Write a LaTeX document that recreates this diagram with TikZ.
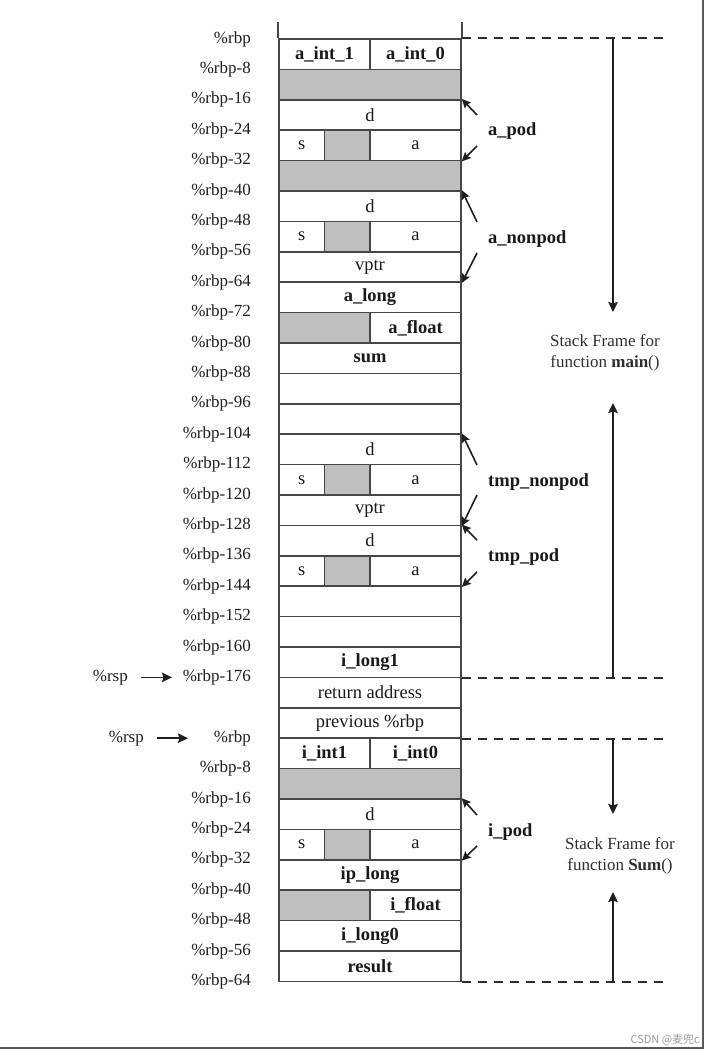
\documentclass[tikz,border=0pt]{standalone}
\usepackage{fontspec}
\setmainfont{Liberation Serif}
\newfontfamily\cjkfont{Noto Sans CJK SC}
\usetikzlibrary{arrows.meta, positioning}

\begin{document}
\begin{tikzpicture}[x=1pt, y=-1pt,
				>={Stealth[length=10pt,width=9.5pt,inset=1.5pt]},
				cell/.style={draw=black!72, line width=1.6pt, minimum height=30.4pt,
					inner sep=0pt, text=black!90, font=\fontsize{18.5}{21}\selectfont},
				full/.style={cell, minimum width=182pt},
				half/.style={cell, minimum width=91pt},
				small/.style={cell, minimum width=45.5pt},
				pad/.style={fill=black!25},
				addr/.style={anchor=east, inner sep=1pt, text=black!88, font=\fontsize{17}{20}\selectfont},
				obj/.style={anchor=west, inner sep=0pt, text=black!90, font=\bfseries\fontsize{18.5}{21}\selectfont},
				ptr/.style={->, >={Stealth[length=9pt,width=8.5pt,inset=1.5pt]}, line width=1.6pt, black!88},
				frameline/.style={line width=2.2pt, black!82, dash pattern=on 9pt off 7pt},
				span/.style={->, line width=1.7pt, black!88},
				note/.style={align=center, text=black!82, font=\fontsize{17}{21}\selectfont}]
	\useasboundingbox (0,0) rectangle (712,1051);
	% stack frame of main()
	\node[half] (r0a) at (324.5,54.2) {\textbf{a\_int\_1}};
	\node[half] (r0b) at (415.5,54.2) {\textbf{a\_int\_0}};
	\node[full, pad] (r1) at (370,84.6) {};
	\node[full] (r2) at (370,115) {d};
	\node[small] (r3a) at (301.75,145.4) {s};
	\node[small, pad] (r3b) at (347.25,145.4) {};
	\node[half] (r3c) at (415.5,145.4) {a};
	\node[full, pad] (r4) at (370,175.8) {};
	\node[full] (r5) at (370,206.2) {d};
	\node[small] (r6a) at (301.75,236.6) {s};
	\node[small, pad] (r6b) at (347.25,236.6) {};
	\node[half] (r6c) at (415.5,236.6) {a};
	\node[full] (r7) at (370,267) {vptr};
	\node[full] (r8) at (370,297.4) {\textbf{a\_long}};
	\node[half, pad] (r9a) at (324.5,327.8) {};
	\node[half] (r9b) at (415.5,327.8) {\textbf{a\_float}};
	\node[full] (r10) at (370,358.2) {\textbf{sum}};
	\node[full] (r11) at (370,388.6) {};
	\node[full] (r12) at (370,419) {};
	\node[full] (r13) at (370,449.4) {d};
	\node[small] (r14a) at (301.75,479.8) {s};
	\node[small, pad] (r14b) at (347.25,479.8) {};
	\node[half] (r14c) at (415.5,479.8) {a};
	\node[full] (r15) at (370,510.2) {vptr};
	\node[full] (r16) at (370,540.6) {d};
	\node[small] (r17a) at (301.75,571) {s};
	\node[small, pad] (r17b) at (347.25,571) {};
	\node[half] (r17c) at (415.5,571) {a};
	\node[full] (r18) at (370,601.4) {};
	\node[full] (r19) at (370,631.8) {};
	\node[full] (r20) at (370,662.2) {\textbf{i\_long1}};
	\node[full] (r21) at (370,692.6) {return address};
	\node[full] (r22) at (370,723) {previous \%rbp};
	% stack frame of Sum()
	\node[half] (r23a) at (324.5,753.4) {\textbf{i\_int1}};
	\node[half] (r23b) at (415.5,753.4) {\textbf{i\_int0}};
	\node[full, pad] (r24) at (370,783.8) {};
	\node[full] (r25) at (370,814.2) {d};
	\node[small] (r26a) at (301.75,844.6) {s};
	\node[small, pad] (r26b) at (347.25,844.6) {};
	\node[half] (r26c) at (415.5,844.6) {a};
	\node[full] (r27) at (370,875) {\textbf{ip\_long}};
	\node[half, pad] (r28a) at (324.5,905.4) {};
	\node[half] (r28b) at (415.5,905.4) {\textbf{i\_float}};
	\node[full] (r29) at (370,935.8) {\textbf{i\_long0}};
	\node[full] (r30) at (370,966.2) {\textbf{result}};
	\draw[black!72, line width=1.6pt] (r0a.north west) -- ++(0,-16);
	\draw[black!72, line width=1.6pt] (r0b.north east) -- ++(0,-16);
	% addresses
	\foreach \k/\t in {0/{},1/-8,2/-16,3/-24,4/-32,5/-40,6/-48,7/-56,8/-64,9/-72,10/-80,
		11/-88,12/-96,13/-104,14/-112,15/-120,16/-128,17/-136,18/-144,19/-152,20/-160,21/-176}
		\node[addr] (m\k) at (252,{39+30.4*\k}) {\%rbp\t};
	\foreach \k/\t in {0/{},1/-8,2/-16,3/-24,4/-32,5/-40,6/-48,7/-56,8/-64}
		\node[addr] (s\k) at (252,{738.2+30.4*\k}) {\%rbp\t};
	\node[addr] (rsp1) at (129,677.4) {\%rsp};
	\node[addr] (rsp2) at (145,738.2) {\%rsp};
	\draw[span] ([xshift=12pt]rsp1.east) -- ++(31,0);
	\draw[span] ([xshift=12pt]rsp2.east) -- ++(31,0);
	% objects
	\node[obj] (apod) at (488,131) {a\_pod};
	\node[obj] (anonpod) at (488,239) {a\_nonpod};
	\node[obj] (tmpnonpod) at (488,482) {tmp\_nonpod};
	\node[obj] (tmppod) at (488,557) {tmp\_pod};
	\node[obj] (ipod) at (488,832) {i\_pod};
	\draw[ptr] ([shift={(-11,-16)}]apod.west) -- (r2.north east);
	\draw[ptr] ([shift={(-11,15)}]apod.west) -- (r3c.south east);
	\draw[ptr] ([shift={(-11,-17)}]anonpod.west) -- (r5.north east);
	\draw[ptr] ([shift={(-11,14)}]anonpod.west) -- (r7.south east);
	\draw[ptr] ([shift={(-11,-17)}]tmpnonpod.west) -- (r13.north east);
	\draw[ptr] ([shift={(-11,13)}]tmpnonpod.west) -- (r15.south east);
	\draw[ptr] ([shift={(-11,-17)}]tmppod.west) -- (r16.north east);
	\draw[ptr] ([shift={(-11,15)}]tmppod.west) -- (r17c.south east);
	\draw[ptr] ([shift={(-11,-17)}]ipod.west) -- (r25.north east);
	\draw[ptr] ([shift={(-11,14)}]ipod.west) -- (r26c.south east);
	% frames
	\draw[frameline] (r0b.north east) -- ++(204,0);
	\draw[frameline] (r20.south east) -- ++(204,0);
	\draw[frameline] (r22.south east) -- ++(204,0);
	\draw[frameline] (r30.south east) -- ++(204,0);
	\node[note] (mainf) at (605,353) {Stack Frame for\\function \textbf{main}()};
	\node[note] (sumf) at (620,856) {Stack Frame for\\function \textbf{Sum}()};
	\coordinate (mtop) at (613,39);
	\coordinate (mbot) at (613,677.4);
	\coordinate (stop) at (613,738.2);
	\coordinate (sbot) at (613,981.4);
	\draw[span] (mtop) -- (613,312);
	\draw[span] (mbot) -- (613,403);
	\draw[span] (stop) -- (613,814);
	\draw[span] (sbot) -- (613,892);
	% border
	\draw[black!65, line width=1.5pt] (0,1048) -- (703,1048) -- (703,0);
	\node[anchor=base east, inner sep=0pt, text=black!40, font=\cjkfont\fontsize{11}{12}\selectfont] (wm) at (700,1043) {CSDN @麦兜c};
\end{tikzpicture}
\end{document}
